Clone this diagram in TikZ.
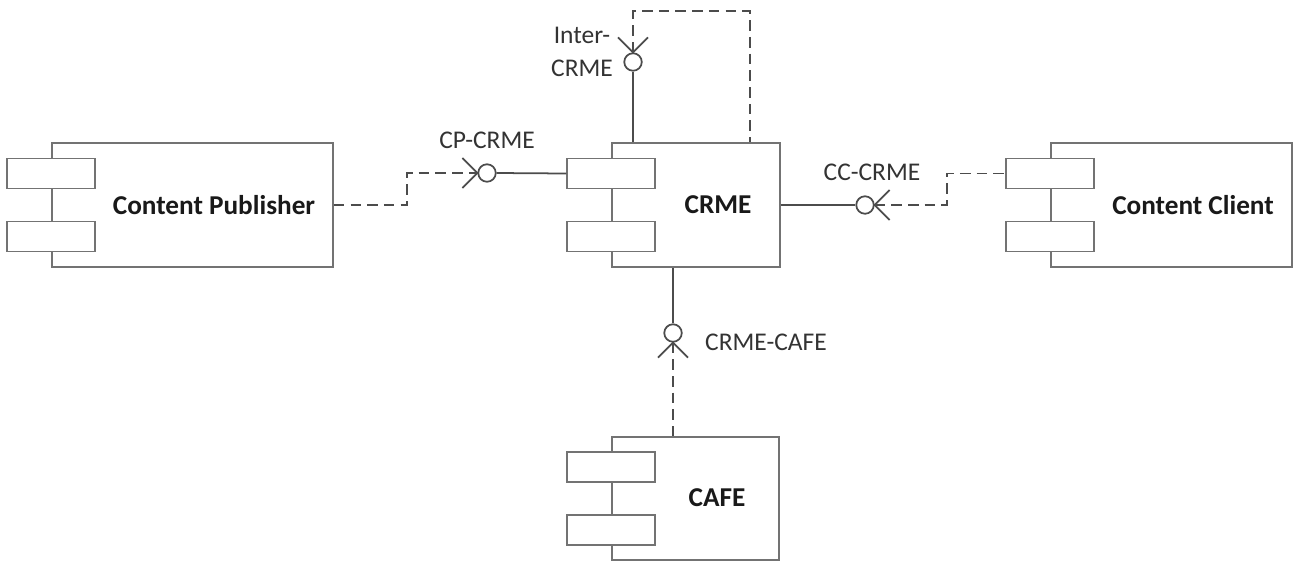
\documentclass[tikz,border=0pt]{standalone}
\usepackage{fontspec}
\setmainfont{Carlito}
\usepackage{tikz}
\usetikzlibrary{calc, positioning}

\begin{document}
\begin{tikzpicture}[x=0.02cm, y=-0.02cm, line width=1pt,
    comp/.style={draw=black!55, fill=white, minimum height=2.48cm, inner sep=0pt},
    port/.style={draw=black!55, fill=white, minimum width=1.76cm, minimum height=0.6cm, inner sep=0pt},
    ball/.style={draw=black!70, circle, fill=white, minimum size=0.35cm, inner sep=0pt},
    lnk/.style={draw=black!70},
    dep/.style={draw=black!70, dash pattern=on 6pt off 3.5pt},
    comptext/.style={font=\fontsize{15.5}{18}\selectfont\bfseries, text=black!90},
    ifc/.style={font=\fontsize{14.5}{19}\selectfont, text=black!80, align=center}]
    \useasboundingbox (0,0) rectangle (1293,561);

    % components
    \node[comp, minimum width=5.62cm] (cp)   at (192.5,205) {};
    \node[comp, minimum width=3.36cm] (crme) at (696,205) {};
    \node[comp, minimum width=4.82cm] (cc)   at (1171.5,205) {};
    \node[comp, minimum width=3.34cm, minimum height=2.46cm] (cafe) at (695.5,498.5) {};
    \foreach \c in {cp, crme, cc, cafe} {
      \node[port] (\c-a) at ([yshift=0.63cm]\c.west) {};
      \node[port] (\c-b) at ([yshift=-0.63cm]\c.west) {};
    }
    \node[comptext] (cp-t)   at (214,205) {Content Publisher};
    \node[comptext] (crme-t) at (718,205) {CRME};
    \node[comptext] (cc-t)   at (1193,205) {Content Client};
    \node[comptext] (cafe-t) at (717,498) {CAFE};

    % interfaces (ball + socket)
    \node[ball] (cpb)    at (487,173) {};
    \node[ball] (ccb)    at (865,205) {};
    \node[ball] (interb) at (633,62) {};
    \node[ball] (cafeb)  at (673,333) {};
    \draw[lnk] (cpb.west) ++(-15,-15) -- (cpb.west) -- ++(-15,15);
    \draw[lnk] (ccb.east) ++(15,-15) -- (ccb.east) -- ++(15,15);
    \draw[lnk] (interb.north) ++(-15,-15) -- (interb.north) -- ++(15,-15);
    \draw[lnk] (cafeb.south) ++(-15,15) -- (cafeb.south) -- ++(15,15);

    \node[ifc] (cpl)    at (487,140) {CP-CRME};
    \node[ifc] (ccl)    at (872,172) {CC-CRME};
    \node[ifc] (interl) at (582,52)  {Inter-\\CRME};
    \node[ifc] (cafel)  at (766,342) {CRME-CAFE};

    % connectors
    \draw[dep] (cp.east) -- ++(73,0) |- (cpb.west);
    \draw[lnk] (cpb.east) -- (crme-a.west);
    \draw[lnk] (crme.east) -- (ccb.west);
    \draw[dep] (ccb.east) -- ++(72,0) |- (cc-a.west);
    \coordinate (crme-top) at ([xshift=1.08cm]crme.north);
    \draw[lnk] (crme.north -| interb.south) -- (interb.south);
    \draw[dep] (interb.north) -- ++(0,-41) -| (crme-top);
    \draw[lnk] (crme.south -| cafeb.north) -- (cafeb.north);
    \draw[dep] (cafeb.south) -- (cafeb.south |- cafe.north);
  \end{tikzpicture}
\end{document}
